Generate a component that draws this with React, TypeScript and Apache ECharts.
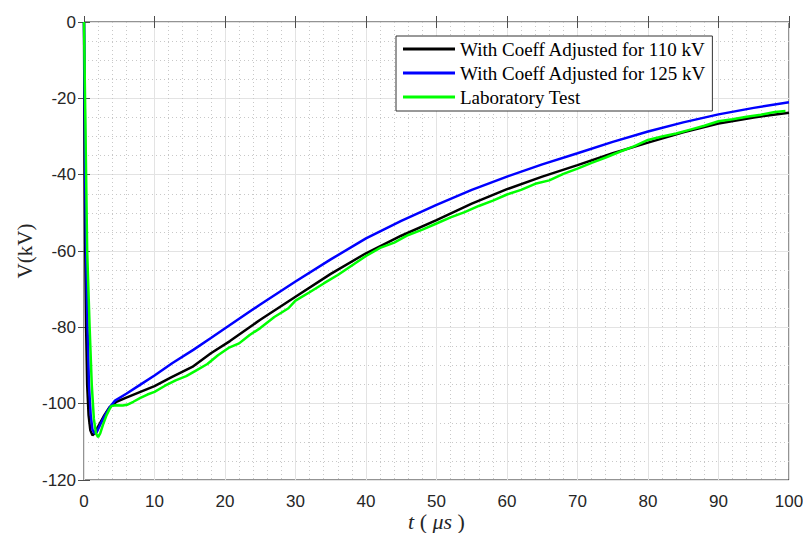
import React, { useEffect, useRef } from "react";
import * as echarts from "echarts";

const xTicks = [0, 10, 20, 30, 40, 50, 60, 70, 80, 90, 100];
const yTicks = [-120, -100, -80, -60, -40, -20, 0];

const seriesNames = [
  "With Coeff Adjusted for 110 kV",
  "With Coeff Adjusted for 125 kV",
  "Laboratory Test",
];

const coeff110: [number, number][] = [
  [0, 0], [0.05, -20], [0.1, -40], [0.18, -60], [0.3, -80], [0.45, -95], [0.65, -103],
  [0.9, -107], [1.2, -108.3], [1.5, -107.8], [2, -106], [2.8, -103.3], [3.6, -101],
  [4.6, -99.5], [6, -98.4], [8, -96.9], [10, -95.4], [12.5, -93], [15.5, -90.2],
  [18, -86.8], [20.7, -83.6], [25, -78], [30, -72], [35, -66], [40, -60.6], [45, -56],
  [50, -51.9], [55, -47.6], [60, -43.8], [65, -40.5], [70, -37.5], [75, -34.4],
  [80, -31.6], [85, -28.9], [90, -26.6], [95, -25], [100, -23.8],
];

const coeff125: [number, number][] = [
  [0, 0], [0.1, -20], [0.18, -40], [0.3, -60], [0.5, -80], [0.7, -95], [0.95, -103],
  [1.2, -106.8], [1.5, -107.8], [1.8, -107.5], [2.3, -105.5], [3, -103], [3.7, -100.8],
  [4.4, -99.2], [6, -97.4], [8, -95], [10, -92.6], [12.5, -89.4], [15.5, -85.9],
  [18, -82.8], [20.7, -79.4], [25, -74], [30, -68], [35, -62.2], [40, -56.7],
  [45, -52.1], [50, -47.9], [55, -44], [60, -40.5], [65, -37.3], [70, -34.4],
  [75, -31.4], [80, -28.7], [85, -26.3], [90, -24.2], [95, -22.5], [100, -21],
];

const labTest: [number, number][] = [
  [0, 0], [0.15, -20], [0.3, -40], [0.45, -60], [0.8, -80], [1.1, -95], [1.4, -104],
  [1.7, -107.8], [2.0, -108.8], [2.3, -107.8], [2.7, -105.5], [3.2, -103], [3.6, -101.5],
  [3.9, -100.6], [4.5, -100.4], [5.5, -100.5], [6.1, -100.3], [7, -99.5], [8, -98.5],
  [9, -97.6], [10, -96.9], [11.5, -95.3], [13, -93.9], [14.5, -92.8], [16, -91.2],
  [17.5, -89.6], [19, -87.3], [20.5, -85.4], [22, -84.2], [23.5, -82], [25, -80.2],
  [27, -77.3], [29, -75], [30, -73], [32, -70.8], [34, -68.5], [36, -66.3], [38, -63.8],
  [40, -61.3], [42, -59.2], [44, -57.8], [46, -55.8], [48, -54.4], [50, -52.8],
  [52, -51.2], [54, -49.8], [56, -48.2], [58, -46.8], [60, -45.2], [62, -44],
  [64, -42.4], [66, -41.5], [68, -39.8], [70, -38.4], [72, -36.9], [74, -35.5],
  [76, -34], [78, -32.6], [80, -30.9], [82, -30.0], [84, -29.2], [86, -28.2],
  [88, -27.2], [90, -26.0], [92, -25.5], [94, -24.8], [96, -24.3], [98, -23.6],
  [99.5, -23.3],
];

const colors = ["#000000", "#0000ff", "#00ff00"];

export default function App() {
  const ref = useRef<HTMLDivElement>(null);
  useEffect(() => {
    if (!ref.current) return;
    const chart = echarts.init(ref.current, undefined, { renderer: "svg" });
    const tickColor = "#4d4d4d";
    const serif = "Liberation Serif, Times New Roman, serif";
    const labelStyle = {
      color: "#262626",
      fontFamily: "Liberation Sans, Arial, sans-serif",
      fontSize: 17,
    };
    const xBase = {
      type: "value" as const,
      min: xTicks[0],
      max: xTicks[xTicks.length - 1],
      interval: 10,
    };
    const yBase = {
      type: "value" as const,
      min: yTicks[0],
      max: yTicks[yTicks.length - 1],
      interval: 20,
    };
    chart.setOption({
      animation: false,
      backgroundColor: "#ffffff",
      grid: {
        left: 84,
        right: 14,
        top: 22,
        bottom: 53,
        containLabel: false,
        outerBoundsMode: "none",
        show: true,
        borderColor: "#262626",
        borderWidth: 1,
        backgroundColor: "#ffffff",
      },
      legend: {
        show: true,
        orient: "vertical",
        left: 396,
        top: 36,
        data: seriesNames,
        icon: "rect",
        itemWidth: 52,
        itemHeight: 3,
        itemGap: 4,
        padding: [3, 6, 4, 7],
        backgroundColor: "#ffffff",
        borderColor: "#333333",
        borderWidth: 1,
        textStyle: {
          fontFamily: serif,
          fontSize: 19,
          color: "#000000",
          lineHeight: 20,
        },
      },
      xAxis: [
        {
          ...xBase,
          position: "bottom",
          name: "{i|t} ( {i|μs} )",
          nameLocation: "middle",
          nameGap: 30,
          nameMoveOverlap: false,
          nameTextStyle: {
            fontFamily: serif,
            fontSize: 22,
            lineHeight: 22,
            color: "#262626",
            rich: {
              i: {
                fontStyle: "italic",
                fontFamily: serif,
                fontSize: 22,
                lineHeight: 22,
                color: "#262626",
              },
            },
          },
          axisLine: { show: false },
          axisTick: { show: true, inside: true, length: 6, lineStyle: { color: tickColor } },
          axisLabel: { ...labelStyle, margin: 13 },
          splitLine: { show: true, lineStyle: { color: "#e3e3e3", width: 1 } },
          minorTick: { show: false, splitNumber: 5 },
          minorSplitLine: {
            show: true,
            lineStyle: { color: "#c8c8c8", type: [1, 3], width: 1 },
          },
        },
        {
          ...xBase,
          position: "top",
          axisLine: { show: false },
          axisTick: { show: true, inside: true, length: 6, lineStyle: { color: tickColor } },
          axisLabel: { show: false },
          splitLine: { show: false },
        },
      ],
      yAxis: [
        {
          ...yBase,
          position: "left",
          name: "V(kV)",
          nameLocation: "middle",
          nameGap: 49,
          nameMoveOverlap: false,
          nameTextStyle: {
            fontFamily: serif,
            fontSize: 21,
            color: "#262626",
          },
          axisLine: { show: false },
          axisTick: { show: true, inside: true, length: 6, lineStyle: { color: tickColor } },
          axisLabel: { ...labelStyle, margin: 8 },
          splitLine: { show: true, lineStyle: { color: "#e3e3e3", width: 1 } },
          minorTick: { show: false, splitNumber: 4 },
          minorSplitLine: {
            show: true,
            lineStyle: { color: "#c8c8c8", type: [1, 3], width: 1 },
          },
        },
        {
          ...yBase,
          position: "right",
          axisLine: { show: false },
          axisTick: { show: true, inside: true, length: 6, lineStyle: { color: tickColor } },
          axisLabel: { show: false },
          splitLine: { show: false },
        },
      ],
      series: [
        { name: seriesNames[0], data: coeff110, color: colors[0] },
        { name: seriesNames[1], data: coeff125, color: colors[1] },
        { name: seriesNames[2], data: labTest, color: colors[2] },
      ].map((s) => ({
        type: "line",
        name: s.name,
        data: s.data,
        xAxisIndex: 0,
        yAxisIndex: 0,
        showSymbol: false,
        symbol: "none",
        itemStyle: { color: s.color },
        lineStyle: { color: s.color, width: 2.5 },
      })),
    });
    return () => chart.dispose();
  }, []);
  return <div ref={ref} style={{ width: 803, height: 533, position: "absolute", left: 0, top: 0 }} />;
}
